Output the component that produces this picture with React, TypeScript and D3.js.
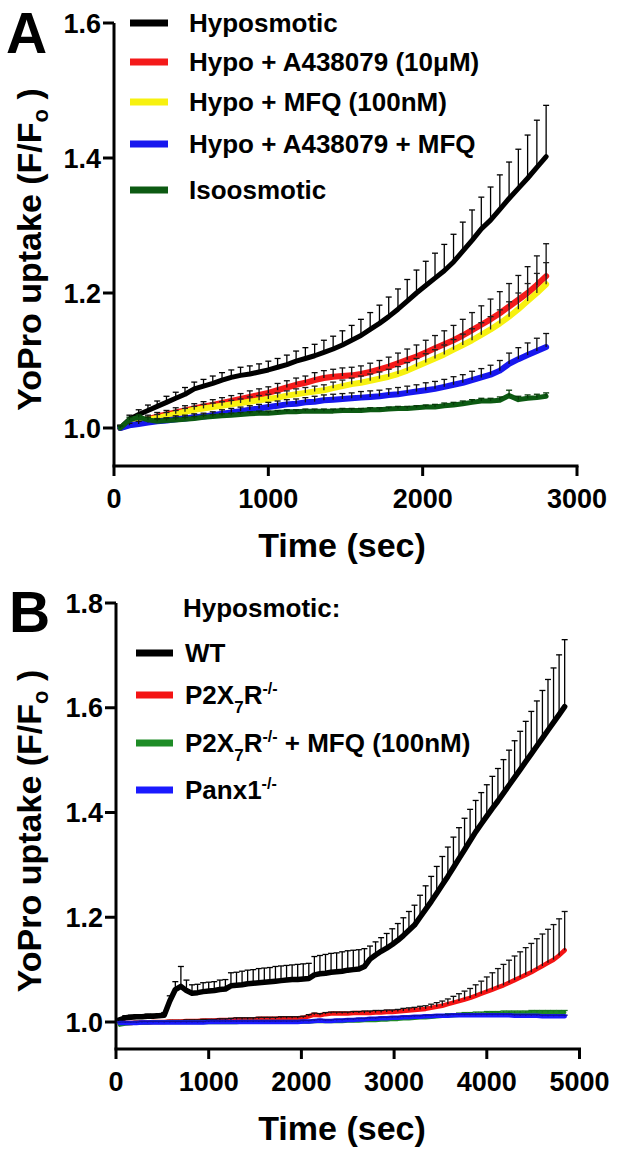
import * as d3 from "d3";

// ---------- Panel A data (time in sec, YoPro F/Fo, upper SEM) ----------
const timesA = [40, 100, 160, 220, 280, 340, 400, 460, 520, 580, 640, 700, 760, 820, 880, 940, 1000, 1060, 1120, 1180, 1240, 1300, 1360, 1420, 1480, 1540, 1600, 1660, 1720, 1780, 1840, 1900, 1960, 2020, 2080, 2140, 2200, 2260, 2320, 2380, 2440, 2500, 2560, 2620, 2680, 2740, 2800];

const hypoA = [1.000, 1.013, 1.020, 1.026, 1.032, 1.038, 1.044, 1.050, 1.058, 1.062, 1.066, 1.071, 1.075, 1.078, 1.080, 1.083, 1.086, 1.090, 1.094, 1.099, 1.103, 1.107, 1.112, 1.117, 1.123, 1.130, 1.137, 1.146, 1.155, 1.165, 1.176, 1.188, 1.200, 1.211, 1.222, 1.233, 1.246, 1.262, 1.278, 1.295, 1.308, 1.324, 1.340, 1.355, 1.370, 1.386, 1.402];
const hypoAErr = [0.004, 0.006, 0.007, 0.008, 0.008, 0.009, 0.009, 0.010, 0.010, 0.010, 0.011, 0.011, 0.011, 0.012, 0.012, 0.012, 0.013, 0.013, 0.014, 0.015, 0.016, 0.017, 0.018, 0.019, 0.021, 0.022, 0.024, 0.025, 0.027, 0.029, 0.030, 0.032, 0.034, 0.036, 0.037, 0.039, 0.041, 0.043, 0.045, 0.047, 0.049, 0.051, 0.054, 0.058, 0.064, 0.070, 0.076];

const a438A = [1.000, 1.006, 1.010, 1.013, 1.017, 1.020, 1.023, 1.026, 1.029, 1.032, 1.034, 1.037, 1.040, 1.043, 1.046, 1.049, 1.052, 1.056, 1.060, 1.064, 1.067, 1.071, 1.074, 1.076, 1.077, 1.078, 1.080, 1.083, 1.087, 1.091, 1.096, 1.101, 1.106, 1.112, 1.118, 1.124, 1.130, 1.137, 1.145, 1.153, 1.161, 1.170, 1.180, 1.190, 1.200, 1.212, 1.225];
const a438AErr = [0.004, 0.005, 0.005, 0.006, 0.006, 0.006, 0.007, 0.007, 0.007, 0.007, 0.008, 0.008, 0.008, 0.008, 0.009, 0.009, 0.009, 0.010, 0.010, 0.010, 0.010, 0.011, 0.011, 0.011, 0.012, 0.012, 0.012, 0.013, 0.013, 0.014, 0.015, 0.016, 0.017, 0.018, 0.019, 0.020, 0.022, 0.024, 0.026, 0.028, 0.030, 0.032, 0.034, 0.036, 0.039, 0.043, 0.048];

const mfqA = [1.000, 1.005, 1.009, 1.012, 1.015, 1.018, 1.021, 1.024, 1.027, 1.029, 1.031, 1.033, 1.035, 1.037, 1.039, 1.041, 1.043, 1.045, 1.048, 1.050, 1.052, 1.054, 1.056, 1.059, 1.062, 1.065, 1.067, 1.070, 1.073, 1.076, 1.080, 1.085, 1.091, 1.097, 1.103, 1.109, 1.116, 1.123, 1.130, 1.138, 1.146, 1.155, 1.165, 1.176, 1.188, 1.200, 1.213];
const mfqAErr = [0.003, 0.004, 0.004, 0.004, 0.005, 0.005, 0.005, 0.005, 0.005, 0.006, 0.006, 0.006, 0.006, 0.006, 0.007, 0.007, 0.007, 0.007, 0.007, 0.008, 0.008, 0.008, 0.008, 0.009, 0.009, 0.009, 0.010, 0.010, 0.010, 0.011, 0.011, 0.012, 0.012, 0.013, 0.013, 0.014, 0.015, 0.016, 0.017, 0.018, 0.019, 0.020, 0.022, 0.024, 0.026, 0.029, 0.032];

const bothA = [1.000, 1.004, 1.006, 1.008, 1.010, 1.011, 1.013, 1.014, 1.016, 1.017, 1.019, 1.021, 1.023, 1.025, 1.027, 1.029, 1.031, 1.033, 1.035, 1.036, 1.038, 1.039, 1.041, 1.042, 1.043, 1.044, 1.045, 1.046, 1.047, 1.049, 1.050, 1.052, 1.054, 1.056, 1.058, 1.061, 1.064, 1.067, 1.071, 1.075, 1.079, 1.085, 1.095, 1.102, 1.108, 1.114, 1.120];
const bothAErr = [0.003, 0.003, 0.004, 0.004, 0.004, 0.004, 0.005, 0.005, 0.005, 0.005, 0.005, 0.006, 0.006, 0.006, 0.006, 0.006, 0.007, 0.007, 0.007, 0.007, 0.007, 0.008, 0.008, 0.008, 0.008, 0.008, 0.009, 0.009, 0.009, 0.009, 0.010, 0.010, 0.010, 0.011, 0.011, 0.011, 0.012, 0.012, 0.013, 0.013, 0.014, 0.015, 0.016, 0.017, 0.018, 0.019, 0.020];

const isoA = [1.000, 1.012, 1.016, 1.012, 1.010, 1.011, 1.012, 1.013, 1.014, 1.016, 1.017, 1.018, 1.019, 1.020, 1.021, 1.022, 1.022, 1.023, 1.024, 1.024, 1.025, 1.025, 1.025, 1.025, 1.026, 1.026, 1.026, 1.027, 1.027, 1.028, 1.029, 1.029, 1.030, 1.031, 1.031, 1.033, 1.034, 1.036, 1.038, 1.040, 1.040, 1.041, 1.048, 1.042, 1.044, 1.045, 1.047];
const isoAErr = [0.003, 0.004, 0.004, 0.004, 0.003, 0.003, 0.003, 0.003, 0.003, 0.003, 0.003, 0.003, 0.003, 0.003, 0.003, 0.003, 0.003, 0.003, 0.003, 0.003, 0.003, 0.003, 0.003, 0.003, 0.003, 0.003, 0.003, 0.003, 0.003, 0.003, 0.003, 0.003, 0.003, 0.003, 0.004, 0.004, 0.004, 0.004, 0.004, 0.004, 0.004, 0.005, 0.008, 0.005, 0.005, 0.005, 0.005];

const legendA = ["Hyposmotic", "Hypo + A438079 (10\u03bcM)", "Hypo + MFQ (100nM)", "Hypo + A438079 + MFQ", "Isoosmotic"];
const xTicksA = [0, 1000, 2000, 3000];
const yTicksA = [1.0, 1.2, 1.4, 1.6];

// ---------- Panel B data ----------
const timesB = [40, 100, 160, 220, 280, 340, 400, 460, 520, 580, 640, 700, 760, 820, 880, 940, 1000, 1060, 1120, 1180, 1240, 1300, 1360, 1420, 1480, 1540, 1600, 1660, 1720, 1780, 1840, 1900, 1960, 2020, 2080, 2140, 2200, 2260, 2320, 2380, 2440, 2500, 2560, 2620, 2680, 2740, 2800, 2860, 2920, 2980, 3040, 3100, 3160, 3220, 3280, 3340, 3400, 3460, 3520, 3580, 3640, 3700, 3760, 3820, 3880, 3940, 4000, 4060, 4120, 4180, 4240, 4300, 4360, 4420, 4480, 4540, 4600, 4660, 4720, 4780, 4840];

const wtB = [1.004, 1.008, 1.009, 1.010, 1.010, 1.011, 1.011, 1.012, 1.013, 1.040, 1.062, 1.068, 1.060, 1.055, 1.056, 1.058, 1.059, 1.060, 1.062, 1.063, 1.069, 1.070, 1.071, 1.073, 1.074, 1.075, 1.076, 1.077, 1.078, 1.079, 1.080, 1.081, 1.081, 1.082, 1.083, 1.090, 1.092, 1.093, 1.095, 1.096, 1.097, 1.099, 1.100, 1.101, 1.106, 1.120, 1.128, 1.135, 1.141, 1.148, 1.156, 1.165, 1.175, 1.185, 1.200, 1.215, 1.230, 1.246, 1.262, 1.278, 1.295, 1.312, 1.329, 1.346, 1.363, 1.378, 1.393, 1.408, 1.422, 1.437, 1.452, 1.467, 1.482, 1.497, 1.512, 1.527, 1.542, 1.557, 1.572, 1.587, 1.602];
const wtBErr = [0.003, 0.004, 0.004, 0.004, 0.004, 0.004, 0.004, 0.004, 0.005, 0.010, 0.015, 0.038, 0.020, 0.016, 0.016, 0.017, 0.017, 0.017, 0.018, 0.018, 0.025, 0.025, 0.026, 0.026, 0.026, 0.027, 0.027, 0.027, 0.028, 0.028, 0.028, 0.028, 0.029, 0.029, 0.029, 0.035, 0.035, 0.036, 0.036, 0.036, 0.037, 0.037, 0.037, 0.037, 0.034, 0.025, 0.025, 0.026, 0.028, 0.030, 0.032, 0.034, 0.036, 0.038, 0.042, 0.045, 0.048, 0.051, 0.054, 0.056, 0.058, 0.059, 0.060, 0.060, 0.060, 0.060, 0.060, 0.061, 0.062, 0.064, 0.067, 0.070, 0.073, 0.077, 0.081, 0.086, 0.091, 0.097, 0.104, 0.114, 0.128];

const p2x7B = [0.997, 0.998, 0.998, 0.999, 0.999, 0.999, 1.000, 1.000, 1.000, 1.001, 1.001, 1.001, 1.002, 1.002, 1.002, 1.003, 1.003, 1.003, 1.004, 1.004, 1.004, 1.005, 1.005, 1.005, 1.005, 1.006, 1.006, 1.006, 1.006, 1.007, 1.007, 1.007, 1.007, 1.008, 1.011, 1.014, 1.013, 1.015, 1.016, 1.016, 1.016, 1.016, 1.017, 1.017, 1.017, 1.017, 1.018, 1.018, 1.019, 1.019, 1.020, 1.021, 1.022, 1.023, 1.024, 1.025, 1.027, 1.029, 1.031, 1.034, 1.037, 1.040, 1.043, 1.046, 1.050, 1.054, 1.058, 1.062, 1.066, 1.070, 1.075, 1.080, 1.085, 1.090, 1.095, 1.101, 1.107, 1.113, 1.119, 1.127, 1.137];
const p2x7BErr = [0.002, 0.002, 0.002, 0.002, 0.002, 0.002, 0.002, 0.002, 0.002, 0.002, 0.002, 0.002, 0.002, 0.002, 0.002, 0.002, 0.002, 0.002, 0.002, 0.002, 0.003, 0.003, 0.003, 0.003, 0.003, 0.003, 0.003, 0.003, 0.003, 0.003, 0.003, 0.003, 0.003, 0.003, 0.003, 0.003, 0.003, 0.003, 0.003, 0.003, 0.003, 0.003, 0.003, 0.003, 0.004, 0.004, 0.004, 0.004, 0.004, 0.004, 0.004, 0.005, 0.005, 0.005, 0.006, 0.006, 0.007, 0.008, 0.009, 0.010, 0.012, 0.014, 0.016, 0.018, 0.021, 0.024, 0.028, 0.032, 0.036, 0.040, 0.043, 0.046, 0.049, 0.052, 0.055, 0.058, 0.061, 0.064, 0.067, 0.070, 0.074];

const p2x7MfqB = [0.994, 0.996, 0.997, 0.998, 0.998, 0.998, 0.999, 0.999, 0.999, 0.999, 0.999, 0.999, 0.999, 0.999, 0.999, 0.999, 0.999, 0.999, 0.999, 0.999, 0.999, 0.999, 1.000, 1.000, 1.000, 1.000, 1.000, 1.000, 1.000, 1.000, 1.000, 1.000, 1.000, 1.000, 1.000, 1.001, 1.001, 1.001, 1.001, 1.001, 1.001, 1.002, 1.002, 1.002, 1.003, 1.003, 1.003, 1.004, 1.004, 1.005, 1.005, 1.006, 1.006, 1.007, 1.008, 1.008, 1.009, 1.010, 1.011, 1.012, 1.012, 1.013, 1.014, 1.014, 1.015, 1.015, 1.016, 1.016, 1.016, 1.017, 1.017, 1.017, 1.017, 1.017, 1.018, 1.018, 1.018, 1.018, 1.018, 1.018, 1.018];
const p2x7MfqBErr = [0.003, 0.003, 0.003, 0.003, 0.003, 0.003, 0.003, 0.003, 0.003, 0.003, 0.003, 0.003, 0.003, 0.003, 0.003, 0.003, 0.003, 0.003, 0.003, 0.003, 0.003, 0.003, 0.003, 0.003, 0.003, 0.003, 0.003, 0.003, 0.003, 0.003, 0.003, 0.003, 0.003, 0.003, 0.003, 0.003, 0.003, 0.003, 0.003, 0.003, 0.003, 0.003, 0.003, 0.003, 0.003, 0.003, 0.003, 0.003, 0.003, 0.003, 0.003, 0.003, 0.003, 0.003, 0.003, 0.003, 0.003, 0.003, 0.003, 0.004, 0.004, 0.004, 0.004, 0.004, 0.004, 0.004, 0.004, 0.004, 0.004, 0.004, 0.004, 0.004, 0.004, 0.004, 0.004, 0.004, 0.004, 0.004, 0.004, 0.004, 0.004];

const panxB = [0.998, 0.998, 0.998, 0.998, 0.999, 0.999, 0.999, 0.999, 0.999, 0.999, 0.999, 0.999, 0.999, 0.999, 0.999, 0.999, 1.000, 1.000, 1.000, 1.000, 1.000, 1.000, 1.000, 1.000, 1.000, 1.000, 1.000, 1.000, 1.000, 1.000, 1.000, 1.000, 1.000, 1.001, 1.001, 1.002, 1.003, 1.002, 1.002, 1.003, 1.003, 1.004, 1.004, 1.005, 1.005, 1.006, 1.006, 1.007, 1.007, 1.008, 1.008, 1.009, 1.009, 1.010, 1.010, 1.011, 1.011, 1.012, 1.012, 1.012, 1.013, 1.013, 1.013, 1.013, 1.013, 1.013, 1.013, 1.013, 1.013, 1.013, 1.013, 1.012, 1.012, 1.012, 1.012, 1.012, 1.011, 1.011, 1.011, 1.011, 1.011];
const panxBErr = [0.002, 0.002, 0.002, 0.002, 0.002, 0.002, 0.002, 0.002, 0.002, 0.002, 0.002, 0.002, 0.002, 0.002, 0.002, 0.002, 0.002, 0.002, 0.002, 0.002, 0.002, 0.002, 0.002, 0.002, 0.002, 0.002, 0.002, 0.002, 0.002, 0.002, 0.002, 0.002, 0.002, 0.002, 0.002, 0.002, 0.002, 0.002, 0.002, 0.002, 0.002, 0.002, 0.002, 0.002, 0.002, 0.002, 0.002, 0.002, 0.002, 0.002, 0.002, 0.002, 0.002, 0.002, 0.002, 0.002, 0.002, 0.002, 0.002, 0.002, 0.002, 0.002, 0.002, 0.002, 0.002, 0.002, 0.002, 0.002, 0.002, 0.002, 0.002, 0.002, 0.002, 0.002, 0.002, 0.002, 0.002, 0.002, 0.002, 0.002, 0.002];

const xTicksB = [0, 1000, 2000, 3000, 4000, 5000];
const yTicksB = [1.0, 1.2, 1.4, 1.6, 1.8];

const FONT = "'Liberation Sans', Arial, Helvetica, sans-serif";

type SeriesProps = {
  times: number[];
  values: number[];
  errors: number[];
  x: d3.ScaleLinear<number, number>;
  y: d3.ScaleLinear<number, number>;
  color: string;
  width: number;
  barColor: string;
};

function Series({ times, values, errors, x, y, color, width, barColor }: SeriesProps) {
  const line = d3
    .line<number>()
    .x((_, i) => x(times[i]))
    .y((d) => y(d));
  return (
    <g>
      <path d={line(values) || ""} fill="none" stroke={color} strokeWidth={width} strokeLinejoin="round" strokeLinecap="round" />
      {values.map((v, i) => {
        const cx = x(times[i]);
        const y0 = y(v);
        const y1 = y(v + errors[i]);
        return (
          <g key={i} stroke={barColor} strokeWidth={1.3}>
            <line x1={cx} x2={cx} y1={y0} y2={y1} />
            <line x1={cx - 3} x2={cx + 3} y1={y1} y2={y1} />
          </g>
        );
      })}
    </g>
  );
}

type AxesProps = {
  x: d3.ScaleLinear<number, number>;
  y: d3.ScaleLinear<number, number>;
  xTicks: number[];
  yTicks: number[];
  baseY: number;
  titleY: number;
};

function Axes({ x, y, xTicks, yTicks, baseY, titleY }: AxesProps) {
  const x0 = x.range()[0];
  const x1 = x.range()[1];
  const yTop = y(yTicks[yTicks.length - 1]);
  const yMid = (yTop + baseY) / 2 + 5;
  return (
    <g fontFamily={FONT} fontWeight="bold" fill="#000">
      <line x1={x0} x2={x0} y1={yTop} y2={baseY} stroke="#000" strokeWidth={3} />
      <line x1={x0 - 1.5} x2={x1 + 1.5} y1={baseY} y2={baseY} stroke="#000" strokeWidth={3} />
      {yTicks.map((t) => (
        <g key={t}>
          <line x1={x0 - 11} x2={x0} y1={y(t)} y2={y(t)} stroke="#000" strokeWidth={3} />
          <text x={x0 - 13} y={y(t)} dy="0.36em" textAnchor="end" fontSize={27}>
            {t.toFixed(1)}
          </text>
        </g>
      ))}
      {xTicks.map((t) => (
        <g key={t}>
          <line x1={x(t)} x2={x(t)} y1={baseY} y2={baseY + 10} stroke="#000" strokeWidth={3} />
          <text x={x(t)} y={baseY + 42} textAnchor="middle" fontSize={27}>
            {t}
          </text>
        </g>
      ))}
      <text x={342} y={titleY} textAnchor="middle" fontSize={34}>
        Time (sec)
      </text>
      <text transform={`translate(41,${yMid}) rotate(-90)`} textAnchor="middle" fontSize={34}>
        YoPro uptake (F/F
        <tspan dy={7} fontSize={22}>o</tspan>
        <tspan dy={-7}> )</tspan>
      </text>
    </g>
  );
}

export default function App() {
  // Panel A
  const xA = d3.scaleLinear().domain([0, 3000]).range([114, 577]);
  const yA = d3.scaleLinear().domain([1.0, 1.6]).range([428, 23]);
  const seriesA = [
    { values: hypoA, errors: hypoAErr, color: "#000000", width: 5, barColor: "#000" },
    { values: a438A, errors: a438AErr, color: "#f41a1a", width: 6, barColor: "#111" },
    { values: mfqA, errors: mfqAErr, color: "#f7f10f", width: 6, barColor: "#222" },
    { values: bothA, errors: bothAErr, color: "#1717ee", width: 6, barColor: "#111" },
    { values: isoA, errors: isoAErr, color: "#0c5a12", width: 5, barColor: "#063a08" },
  ];
  const legendRowsA = [23, 62, 102, 144, 190];

  // Panel B
  const xB = d3.scaleLinear().domain([0, 5000]).range([116, 579.5]);
  const yB = d3.scaleLinear().domain([1.0, 1.8]).range([1022, 603]);
  const seriesB = [
    { values: wtB, errors: wtBErr, color: "#000000", width: 5.5, barColor: "#000" },
    { values: p2x7B, errors: p2x7BErr, color: "#f41414", width: 4.5, barColor: "#111" },
    { values: p2x7MfqB, errors: p2x7MfqBErr, color: "#1e8c26", width: 3.5, barColor: "#1a7a20" },
    { values: panxB, errors: panxBErr, color: "#1a1aff", width: 4.5, barColor: "#1010a0" },
  ];
  const legendColorsB = ["#000000", "#f41414", "#1e8c26", "#1a1aff"];
  const legendRowsB = [653, 695, 743, 790];

  return (
    <svg width={617} height={1152} style={{ position: "absolute", left: 0, top: 0, background: "#fff" }}>
      <rect width={617} height={1152} fill="#fff" />

      {/* Panel A */}
      <text x={6} y={53} fontFamily={FONT} fontWeight="bold" fontSize={57}>A</text>
      <Axes x={xA} y={yA} xTicks={xTicksA} yTicks={yTicksA} baseY={466} titleY={557} />
      {seriesA.map((s, i) => (
        <Series key={i} times={timesA} x={xA} y={yA} {...s} />
      ))}
      <g fontFamily={FONT} fontWeight="bold" fontSize={26}>
        {legendA.map((label, i) => (
          <g key={label}>
            <line x1={130} x2={168} y1={legendRowsA[i]} y2={legendRowsA[i]} stroke={seriesA[i].color} strokeWidth={7} />
            <text x={189} y={legendRowsA[i]} dy="0.36em">{label}</text>
          </g>
        ))}
      </g>

      {/* Panel B */}
      <text x={9} y={632} fontFamily={FONT} fontWeight="bold" fontSize={57}>B</text>
      <Axes x={xB} y={yB} xTicks={xTicksB} yTicks={yTicksB} baseY={1049} titleY={1140} />
      {seriesB.map((s, i) => (
        <Series key={i} times={timesB} x={xB} y={yB} {...s} />
      ))}
      <g fontFamily={FONT} fontWeight="bold" fontSize={26}>
        <text x={183} y={608} dy="0.36em">Hyposmotic:</text>
        {legendRowsB.map((ry, i) => (
          <line key={i} x1={136} x2={173} y1={ry} y2={ry} stroke={legendColorsB[i]} strokeWidth={7} />
        ))}
        <text x={185} y={legendRowsB[0]} dy="0.36em">WT</text>
        <text x={185} y={legendRowsB[1]} dy="0.36em">
          P2X<tspan dy={9} fontSize={17}>7</tspan>
          <tspan dy={-9}>R</tspan>
          <tspan dy={-10} fontSize={16}>-/-</tspan>
        </text>
        <text x={185} y={legendRowsB[2]} dy="0.36em">
          P2X<tspan dy={9} fontSize={17}>7</tspan>
          <tspan dy={-9}>R</tspan>
          <tspan dy={-10} fontSize={16}>-/-</tspan>
          <tspan dy={10}> + MFQ (100nM)</tspan>
        </text>
        <text x={185} y={legendRowsB[3]} dy="0.36em">
          Panx1<tspan dy={-10} fontSize={16}>-/-</tspan>
        </text>
      </g>
    </svg>
  );
}
